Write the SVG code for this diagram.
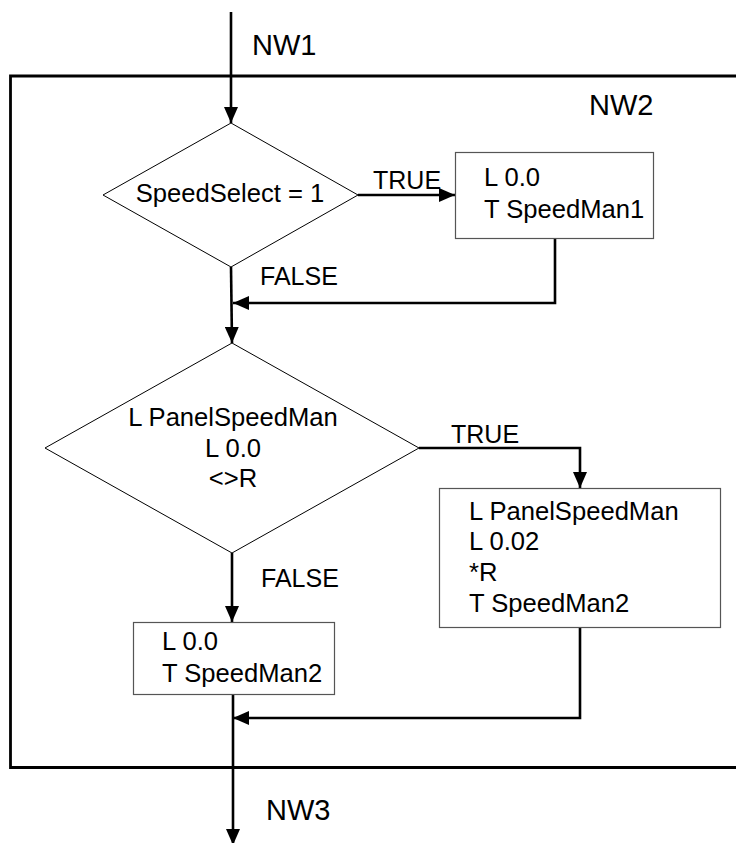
<svg xmlns="http://www.w3.org/2000/svg" width="736" height="843" viewBox="0 0 736 843">
  <style>
    text { font-family: "Liberation Sans", Arial, sans-serif; fill: #000; }
    .big { font-size: 29px; }
    .lbl { font-size: 25px; }
    .code { font-size: 25.6px; }
    .shape { fill: #fff; stroke: #000; stroke-width: 1; }
    .box { fill: #fff; stroke: #555; stroke-width: 1.2; }
    .wire { fill: none; stroke: #000; stroke-width: 2.6; }
    .frame { fill: none; stroke: #000; stroke-width: 2.8; }
  </style>
  <defs>
    <marker id="arrow" markerUnits="userSpaceOnUse" markerWidth="16" markerHeight="14" refX="16" refY="7" orient="auto">
      <path d="M0,0 L16,7 L0,14 z" fill="#000"/>
    </marker>
  </defs>

  <rect width="736" height="843" fill="#fff"/>

  <!-- network frame (right side runs past the page edge) -->
  <g id="frame">
    <path class="frame" d="M745,76 H10.5 V767.5 H745"/>
    <text class="big" x="252" y="55">NW1</text>
    <text class="big" x="589" y="115">NW2</text>
    <text class="big" x="266" y="820">NW3</text>
  </g>

  <!-- connectors -->
  <g id="connectors">
    <path class="wire" d="M231,12 V123" marker-end="url(#arrow)"/>
    <path class="wire" d="M358,195 H455" marker-end="url(#arrow)"/>
    <path class="wire" d="M555,238 V303 H233" marker-end="url(#arrow)"/>
    <path class="wire" d="M231,267 L232,343" marker-end="url(#arrow)"/>
    <path class="wire" d="M419,448 H580 V488" marker-end="url(#arrow)"/>
    <path class="wire" d="M232,553 V622" marker-end="url(#arrow)"/>
    <path class="wire" d="M580,627 V718 H233" marker-end="url(#arrow)"/>
    <path class="wire" d="M233,694 V845" marker-end="url(#arrow)"/>
    <text class="lbl" x="373" y="189">TRUE</text>
    <text class="lbl" x="260" y="285">FALSE</text>
    <text class="lbl" x="451" y="443">TRUE</text>
    <text class="lbl" x="261" y="587">FALSE</text>
  </g>

  <!-- decision: SpeedSelect = 1 -->
  <g id="decision1">
    <polygon class="shape" points="231,123 358,195 231,267 103,195"/>
    <text class="code" x="230" y="202" text-anchor="middle">SpeedSelect = 1</text>
  </g>

  <!-- action: load 0.0 into SpeedMan1 -->
  <g id="action1">
    <rect class="box" x="455.5" y="152.5" width="198" height="86"/>
    <text class="code" x="484" y="186">L 0.0</text>
    <text class="code" x="484" y="218">T SpeedMan1</text>
  </g>

  <!-- decision: PanelSpeedMan <> 0.0 -->
  <g id="decision2">
    <polygon class="shape" points="232,343 419,448 232,553 45,448"/>
    <text class="code" x="233" y="426" text-anchor="middle">L PanelSpeedMan</text>
    <text class="code" x="233" y="457" text-anchor="middle">L 0.0</text>
    <text class="code" x="233" y="487" text-anchor="middle">&lt;&gt;R</text>
  </g>

  <!-- action: scale PanelSpeedMan into SpeedMan2 -->
  <g id="action2">
    <rect class="box" x="439.5" y="488.5" width="281" height="139"/>
    <text class="code" x="469" y="520">L PanelSpeedMan</text>
    <text class="code" x="469" y="550">L 0.02</text>
    <text class="code" x="469" y="581">*R</text>
    <text class="code" x="469" y="612">T SpeedMan2</text>
  </g>

  <!-- action: load 0.0 into SpeedMan2 -->
  <g id="action3">
    <rect class="box" x="133.5" y="622.5" width="201" height="72"/>
    <text class="code" x="162" y="650">L 0.0</text>
    <text class="code" x="162" y="682">T SpeedMan2</text>
  </g>
</svg>
